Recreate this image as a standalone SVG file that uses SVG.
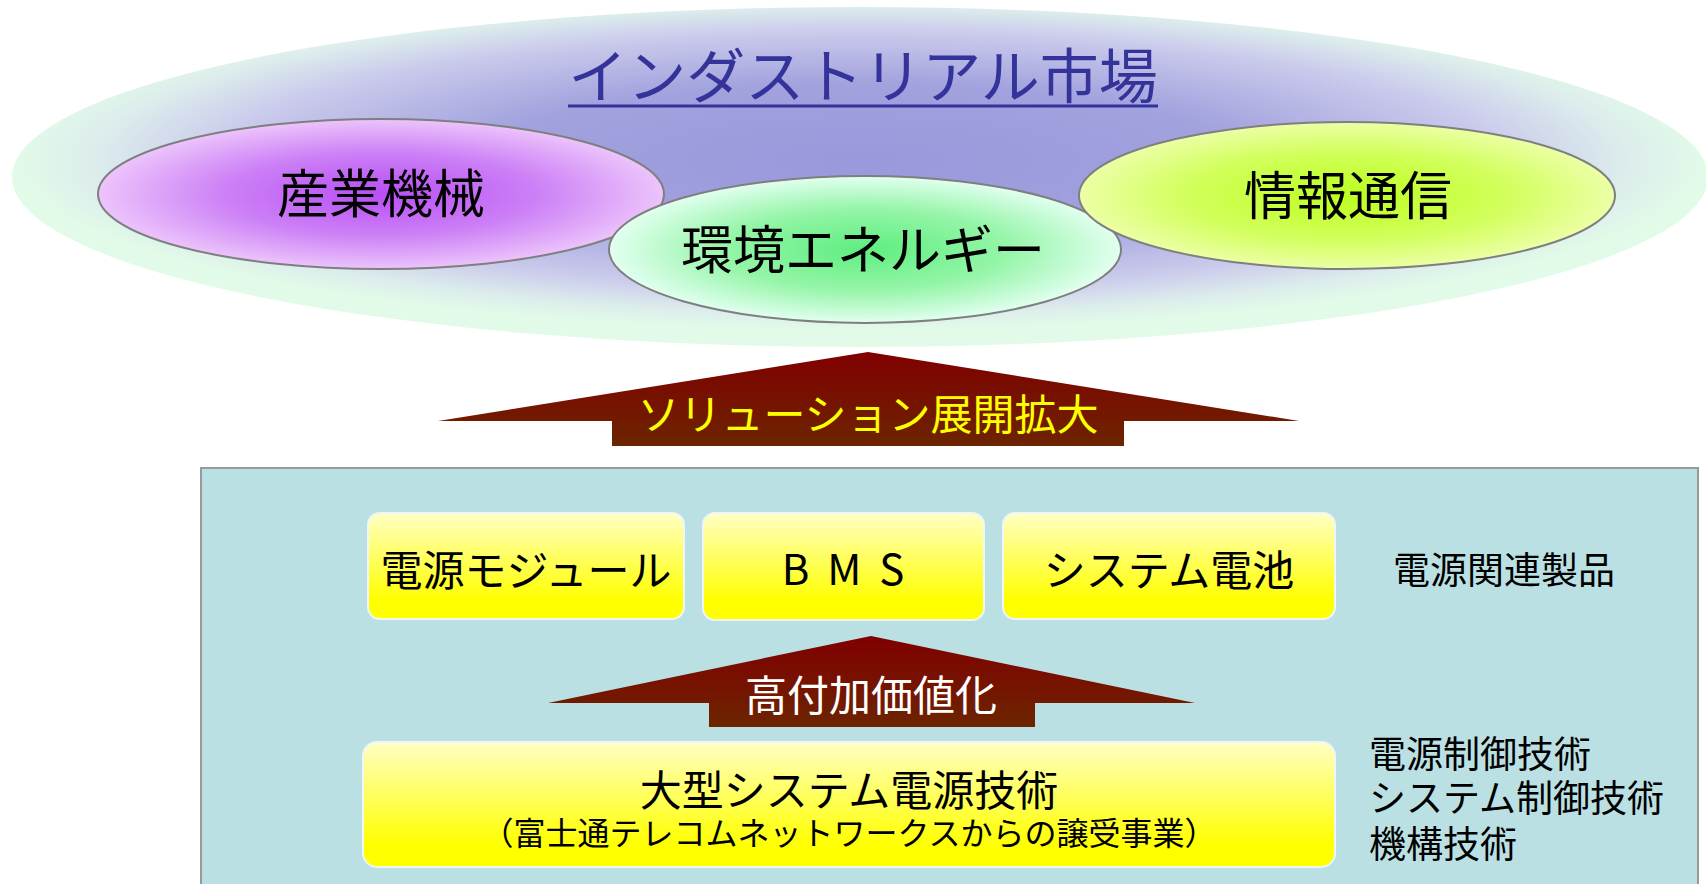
<svg xmlns="http://www.w3.org/2000/svg" width="1706" height="884" viewBox="0 0 1706 884">
<defs>
<radialGradient id="gBig" cx="0.5" cy="0.45" r="0.5">
<stop offset="0" stop-color="#9898dc"/>
<stop offset="0.45" stop-color="#a2a2de"/>
<stop offset="0.75" stop-color="#cacaec"/>
<stop offset="0.9" stop-color="#dcecec"/>
<stop offset="1" stop-color="#e2fbe8"/>
</radialGradient>
<radialGradient id="gPurple" cx="0.5" cy="0.5" r="0.5">
<stop offset="0" stop-color="#b94ef5"/>
<stop offset="0.55" stop-color="#cc80f6"/>
<stop offset="1" stop-color="#ecc4fb"/>
</radialGradient>
<radialGradient id="gGreen" cx="0.5" cy="0.5" r="0.5">
<stop offset="0" stop-color="#5eee80"/>
<stop offset="0.55" stop-color="#95f5a8"/>
<stop offset="1" stop-color="#e2fff0"/>
</radialGradient>
<radialGradient id="gLime" cx="0.5" cy="0.5" r="0.5">
<stop offset="0" stop-color="#bbff1e"/>
<stop offset="0.6" stop-color="#d2ff5c"/>
<stop offset="1" stop-color="#ecffa6"/>
</radialGradient>
<linearGradient id="gArrow" x1="0" y1="0" x2="0" y2="1">
<stop offset="0" stop-color="#800000"/>
<stop offset="1" stop-color="#6c2400"/>
</linearGradient>
<linearGradient id="gBox" x1="0" y1="0" x2="0" y2="1">
<stop offset="0" stop-color="#ffffc4"/>
<stop offset="0.82" stop-color="#ffff00"/>
<stop offset="1" stop-color="#ffff00"/>
</linearGradient>
</defs>
<style>
text{font-family:"Noto Sans CJK JP","Noto Sans",sans-serif;}
.oval{stroke:#7f7f7f;stroke-width:2;}
.box{fill:url(#gBox);stroke:#eef6f8;stroke-width:2;}
.arrow{fill:url(#gArrow);}
.lbl{fill:#000;text-anchor:middle;}
.side{fill:#000;font-size:37px;}
</style>
<rect x="0" y="0" width="1706" height="884" fill="#ffffff"/>

<g id="market">
<ellipse cx="860" cy="177" rx="848" ry="170" fill="url(#gBig)"/>
<text x="863" y="98" font-size="59" fill="#333399" text-anchor="middle">インダストリアル市場</text>
<line x1="568" y1="106" x2="1158" y2="106" stroke="#333399" stroke-width="3"/>
</g>

<g id="sangyo">
<ellipse class="oval" cx="381" cy="194" rx="283" ry="75" fill="url(#gPurple)"/>
<text class="lbl" x="381" y="213" font-size="52">産業機械</text>
</g>

<g id="kankyo">
<ellipse class="oval" cx="865" cy="249.5" rx="256" ry="73.5" fill="url(#gGreen)"/>
<text class="lbl" x="863" y="269" font-size="52">環境エネルギー</text>
</g>

<g id="joho">
<ellipse class="oval" cx="1347" cy="195.5" rx="268" ry="73.5" fill="url(#gLime)"/>
<text class="lbl" x="1348" y="215" font-size="52">情報通信</text>
</g>

<g id="panel">
<rect x="201" y="468" width="1497" height="430" fill="#bbe0e3" stroke="#999999" stroke-width="2"/>
</g>

<g id="connectors">
<g id="arrow-solution">
<polygon class="arrow" points="868,352 1299,421 1124,421 1124,446 612,446 612,421 438,421"/>
<text x="868" y="430" font-size="42" fill="#ffff00" text-anchor="middle">ソリューション展開拡大</text>
</g>
<g id="arrow-value">
<polygon class="arrow" points="871,636 1195,703 1035,703 1035,727 709,727 709,703 548,703"/>
<text x="871" y="711" font-size="42" fill="#ffffff" text-anchor="middle">高付加価値化</text>
</g>
</g>

<g id="power-module">
<rect class="box" x="368" y="513" width="316" height="106" rx="12"/>
<text class="lbl" x="526" y="586" font-size="42">電源モジュール</text>
</g>

<g id="bms">
<rect class="box" x="703" y="513" width="281" height="107" rx="12"/>
<text class="lbl" x="852" y="585" font-size="42" letter-spacing="18">BMS</text>
</g>

<g id="system-battery">
<rect class="box" x="1003" y="513" width="332" height="106" rx="12"/>
<text class="lbl" x="1169" y="586" font-size="42">システム電池</text>
</g>

<g id="label-products">
<text class="side" x="1393" y="584">電源関連製品</text>
</g>

<g id="large-system">
<rect class="box" x="363" y="742" width="972" height="125" rx="14"/>
<text class="lbl" x="849" y="806" font-size="42">大型システム電源技術</text>
<text class="lbl" x="849" y="845" font-size="32">（富士通テレコムネットワークスからの譲受事業）</text>
</g>

<g id="label-tech">
<text class="side" x="1369" y="768">電源制御技術</text>
<text class="side" x="1369" y="812">システム制御技術</text>
<text class="side" x="1369" y="858">機構技術</text>
</g>
</svg>
